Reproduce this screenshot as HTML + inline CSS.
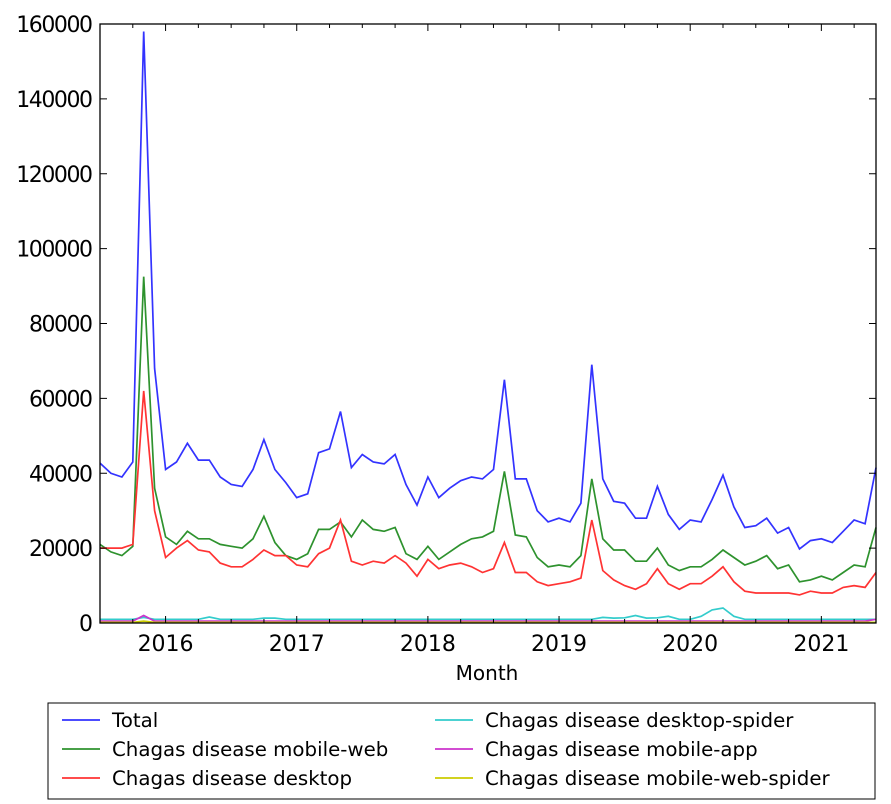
<!DOCTYPE html>
<html><head><meta charset="utf-8"><style>body{margin:0;background:#fff}svg{display:block}text{font-family:"DejaVu Sans","Liberation Sans",sans-serif}</style></head><body>
<svg id="s" width="891" height="804" xmlns="http://www.w3.org/2000/svg"></svg>
<script>
const s=document.getElementById('s');
const L=100,R=876,T=24,B=623;
const X=i=>L+i*(R-L)/71, Y=v=>B-v*(B-T)/160000;
const tot=[42700,40000,39000,43000,158000,68000,41000,43000,48000,43500,43500,39000,37000,36500,41000,49000,41000,37500,33500,34500,45500,46500,56500,41500,45000,43000,42500,45000,37000,31500,39000,33500,36000,38000,39000,38500,41000,65000,38500,38500,30000,27000,28000,27000,32000,69000,38500,32500,32000,28000,28000,36500,29000,25000,27500,27000,33000,39500,31000,25500,26000,28000,24000,25500,19800,22000,22500,21500,24500,27500,26500,41500];
const gr=[21000,19000,18000,20500,92500,36000,23000,21000,24500,22500,22500,21000,20500,20000,22500,28500,21500,18000,17000,18500,25000,25000,27000,23000,27500,25000,24500,25500,18500,17000,20500,17000,19000,21000,22500,23000,24500,40500,23500,23000,17500,15000,15500,15000,18000,38500,22500,19500,19500,16500,16500,20000,15500,14000,15000,15000,17000,19500,17500,15500,16500,18000,14500,15500,11000,11500,12500,11500,13500,15500,15000,25500];
const rd=[20000,20000,20000,21000,62000,30000,17500,20000,22000,19500,19000,16000,15000,15000,17000,19500,18000,18000,15500,15000,18500,20000,27500,16500,15500,16500,16000,18000,16000,12500,17000,14500,15500,16000,15000,13500,14500,21500,13500,13500,11000,10000,10500,11000,12000,27500,14000,11500,10000,9000,10500,14500,10500,9000,10500,10500,12500,15000,11000,8500,8000,8000,8000,8000,7500,8500,8000,8000,9500,10000,9500,13500];
const cy=[],mg=[],yl=[];
for(let i=0;i<72;i++){let c=1000;if(i==4)c=1500;if(i==10)c=1600;if(i==15||i==16)c=1300;if(i>=46&&i<=52)c=[1500,1300,1400,2000,1300,1400,1800][i-46];if(i==55)c=1800;if(i==56)c=3500;if(i==57)c=4000;if(i==58)c=1800;cy.push(c);mg.push(i==4?2000:(i==71?1000:500));yl.push(i==4?500:200);}
let h='';
const poly=(d,c)=>{h+=`<polyline fill="none" stroke="${c}" stroke-width="1.7" points="${d.map((v,i)=>X(i).toFixed(1)+','+Y(v).toFixed(1)).join(' ')}"/>`;};
poly(tot,'#3333ff');poly(gr,'#2e922e');poly(rd,'#ff3333');poly(cy,'#33cccc');poly(mg,'#cc33cc');poly(yl,'#cccc00');
h+=`<rect x="${L}" y="${T}" width="${R-L}" height="${B-T}" fill="none" stroke="#000" stroke-width="1.3"/>`;
for(let k=0;k<=8;k++){const y=Y(k*20000);h+=`<line x1="${L}" x2="${L+7}" y1="${y}" y2="${y}" stroke="#000"/><line x1="${R}" x2="${R-7}" y1="${y}" y2="${y}" stroke="#000"/><text x="${L-7}" y="${y+8}" font-size="22" text-anchor="end" textLength="${(''+k*20000).length*12.8}">${k*20000}</text>`;}
for(let q=0;q<=23;q++){const i=q*3;if(i>71)break;const x=X(i);const maj=(i%12==6);h+=`<line x1="${x}" x2="${x}" y1="${B}" y2="${B-(maj?7:4)}" stroke="#000"/><line x1="${x}" x2="${x}" y1="${T}" y2="${T+(maj?7:4)}" stroke="#000"/>`;if(maj)h+=`<text x="${x}" y="${B+28}" font-size="22" text-anchor="middle">${2016+(i-6)/12}</text>`;}
h+=`<text x="487" y="680" font-size="20" text-anchor="middle">Month</text>`;
h+=`<rect x="48" y="703" width="827" height="96" fill="#fff" stroke="#000" stroke-width="1"/>`;
const lg=[['Total','#3333ff',62,720],['Chagas disease mobile-web','#2e922e',62,749],['Chagas disease desktop','#ff3333',62,778],['Chagas disease desktop-spider','#33cccc',435,720],['Chagas disease mobile-app','#cc33cc',435,749],['Chagas disease mobile-web-spider','#cccc00',435,778]];
lg.forEach(([t,c,x,y])=>{h+=`<line x1="${x}" x2="${x+38}" y1="${y}" y2="${y}" stroke="${c}" stroke-width="1.7"/><text x="${x+50}" y="${y+7}" font-size="19.8">${t}</text>`;});
s.innerHTML=h;
</script></body></html>
